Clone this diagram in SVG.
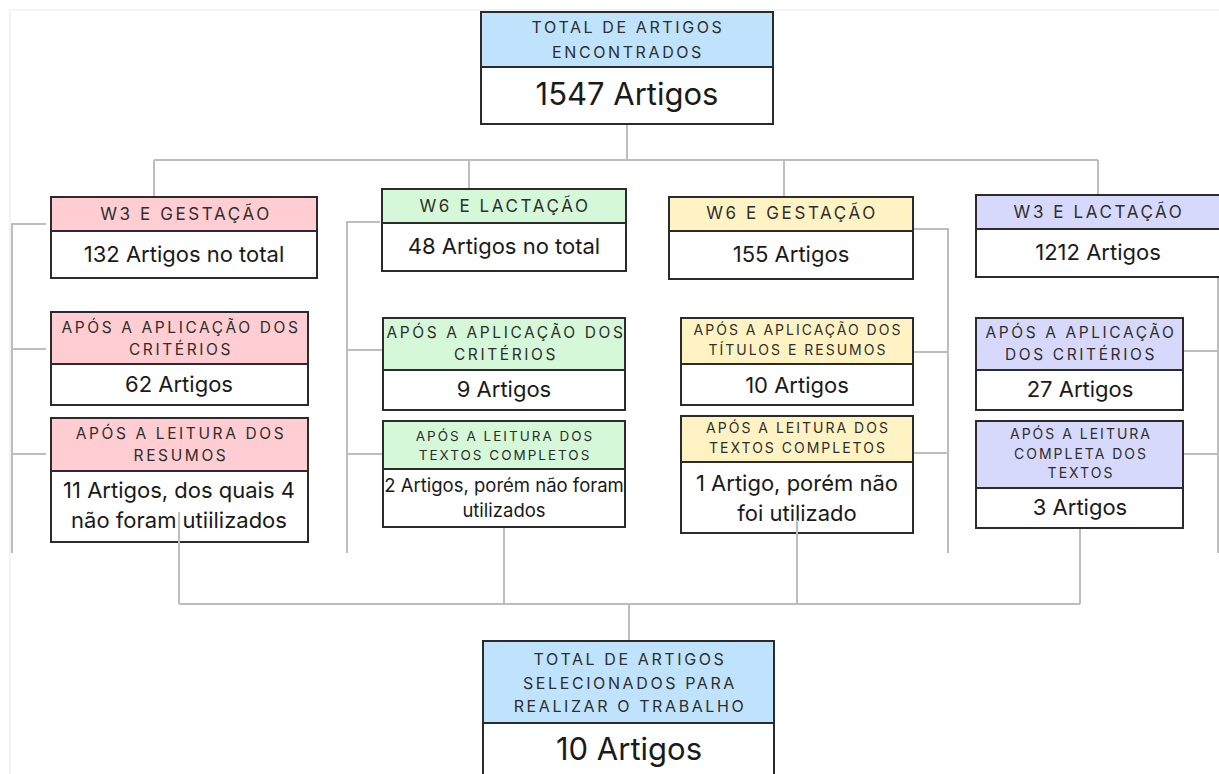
<svg xmlns="http://www.w3.org/2000/svg" width="1219" height="774" viewBox="0 0 1219 774">
<style>
.frame{fill:none;stroke:#efefef;stroke-width:1.5}
.box{stroke:#2b2b2b;stroke-width:2}
.hdr{font-family:Inter,"Liberation Sans",sans-serif;fill:#2e2e2e;text-anchor:middle}
.bdy{font-family:Inter,"Liberation Sans",sans-serif;fill:#1a1a1a;text-anchor:middle}
.con{fill:none;stroke:#bdbdbd;stroke-width:2}
.w{fill:#fff}
.blue{fill:#c0e3fd}
.pink{fill:#ffcdd2}
.green{fill:#d4f8d8}
.yellow{fill:#fff3c4}
.purple{fill:#d6d9fb}
</style>
<rect width="1219" height="774" fill="#fff"/>
<path class="frame" d="M10,790 V10 H1230"/>
<g id="total-encontrados">
<rect class="box blue" x="481" y="12" width="292" height="55"/>
<rect class="box w" x="481" y="67" width="292" height="57"/>
<text class="hdr" style="font-size:16px;letter-spacing:2.6px" x="628" y="33">TOTAL DE ARTIGOS</text>
<text class="hdr" style="font-size:16px;letter-spacing:2.6px" x="628" y="58">ENCONTRADOS</text>
<text class="bdy" style="font-size:31px" x="627" y="105">1547 Artigos</text>
</g>
<g id="w3-gestacao">
<rect class="box pink" x="51" y="197" width="266" height="34"/>
<rect class="box w" x="51" y="231" width="266" height="47"/>
<text class="hdr" style="font-size:17px;letter-spacing:2.6px" x="186" y="220">W3 E GESTAÇÃO</text>
<text class="bdy" style="font-size:22px" x="184" y="262">132 Artigos no total</text>
</g>
<g id="w6-lactacao">
<rect class="box green" x="382" y="189" width="244" height="34"/>
<rect class="box w" x="382" y="223" width="244" height="48"/>
<text class="hdr" style="font-size:17px;letter-spacing:2.6px" x="505" y="212">W6 E LACTAÇÃO</text>
<text class="bdy" style="font-size:22px" x="504" y="254">48 Artigos no total</text>
</g>
<g id="w6-gestacao">
<rect class="box yellow" x="669" y="197" width="244" height="34"/>
<rect class="box w" x="669" y="231" width="244" height="48"/>
<text class="hdr" style="font-size:17px;letter-spacing:2.6px" x="792" y="219">W6 E GESTAÇÃO</text>
<text class="bdy" style="font-size:22px" x="791" y="262">155 Artigos</text>
</g>
<g id="w3-lactacao">
<rect class="box purple" x="976" y="195" width="250" height="34"/>
<rect class="box w" x="976" y="229" width="250" height="48"/>
<text class="hdr" style="font-size:17px;letter-spacing:2.6px" x="1099" y="218">W3 E LACTAÇÃO</text>
<text class="bdy" style="font-size:22px" x="1098" y="260">1212 Artigos</text>
</g>
<g id="w3g-criterios">
<rect class="box pink" x="51" y="312" width="257" height="52"/>
<rect class="box w" x="51" y="364" width="257" height="41"/>
<text class="hdr" style="font-size:15.5px;letter-spacing:2.6px" x="181" y="333">APÓS A APLICAÇÃO DOS</text>
<text class="hdr" style="font-size:15.5px;letter-spacing:2.6px" x="181" y="355">CRITÉRIOS</text>
<text class="bdy" style="font-size:22px" x="179" y="392">62 Artigos</text>
</g>
<g id="w3g-resumos">
<rect class="box pink" x="51" y="418" width="257" height="53"/>
<rect class="box w" x="51" y="471" width="257" height="71"/>
<text class="hdr" style="font-size:15.5px;letter-spacing:2.6px" x="181" y="439">APÓS A LEITURA DOS</text>
<text class="hdr" style="font-size:15.5px;letter-spacing:2.6px" x="181" y="461">RESUMOS</text>
<text class="bdy" style="font-size:22px" x="179" y="498">11 Artigos, dos quais 4</text>
<text class="bdy" style="font-size:22px" x="179" y="528">não foram utiilizados</text>
</g>
<g id="w6l-criterios">
<rect class="box green" x="383" y="318" width="242" height="52"/>
<rect class="box w" x="383" y="370" width="242" height="40"/>
<text class="hdr" style="font-size:15.5px;letter-spacing:2.6px" x="506" y="338">APÓS A APLICAÇÃO DOS</text>
<text class="hdr" style="font-size:15.5px;letter-spacing:2.6px" x="506" y="360">CRITÉRIOS</text>
<text class="bdy" style="font-size:22px" x="504" y="397">9 Artigos</text>
</g>
<g id="w6l-textos">
<rect class="box green" x="383" y="421" width="242" height="48"/>
<rect class="box w" x="383" y="469" width="242" height="58"/>
<text class="hdr" style="font-size:13.5px;letter-spacing:2px" x="505" y="441">APÓS A LEITURA DOS</text>
<text class="hdr" style="font-size:13.5px;letter-spacing:2px" x="505" y="460">TEXTOS COMPLETOS</text>
<text class="bdy" style="font-size:18.5px" x="504" y="492">2 Artigos, porém não foram</text>
<text class="bdy" style="font-size:18.5px" x="504" y="517">utilizados</text>
</g>
<g id="w6g-titulos">
<rect class="box yellow" x="681" y="318" width="232" height="46"/>
<rect class="box w" x="681" y="364" width="232" height="41"/>
<text class="hdr" style="font-size:14px;letter-spacing:2px" x="798" y="335">APÓS A APLICAÇÃO DOS</text>
<text class="hdr" style="font-size:14px;letter-spacing:2px" x="798" y="355">TÍTULOS E RESUMOS</text>
<text class="bdy" style="font-size:22px" x="797" y="393">10 Artigos</text>
</g>
<g id="w6g-textos">
<rect class="box yellow" x="681" y="416" width="232" height="46"/>
<rect class="box w" x="681" y="462" width="232" height="71"/>
<text class="hdr" style="font-size:14px;letter-spacing:2px" x="798" y="433">APÓS A LEITURA DOS</text>
<text class="hdr" style="font-size:14px;letter-spacing:2px" x="798" y="453">TEXTOS COMPLETOS</text>
<text class="bdy" style="font-size:22px" x="797" y="491">1 Artigo, porém não</text>
<text class="bdy" style="font-size:22px" x="797" y="521">foi utilizado</text>
</g>
<g id="w3l-criterios">
<rect class="box purple" x="976" y="318" width="207" height="52"/>
<rect class="box w" x="976" y="370" width="207" height="40"/>
<text class="hdr" style="font-size:15.5px;letter-spacing:2.6px" x="1081" y="338">APÓS A APLICAÇÃO</text>
<text class="hdr" style="font-size:15.5px;letter-spacing:2.6px" x="1081" y="360">DOS CRITÉRIOS</text>
<text class="bdy" style="font-size:22px" x="1080" y="397">27 Artigos</text>
</g>
<g id="w3l-textos">
<rect class="box purple" x="976" y="421" width="207" height="67"/>
<rect class="box w" x="976" y="488" width="207" height="40"/>
<text class="hdr" style="font-size:14px;letter-spacing:2px" x="1081" y="439">APÓS A LEITURA</text>
<text class="hdr" style="font-size:14px;letter-spacing:2px" x="1081" y="459">COMPLETA DOS</text>
<text class="hdr" style="font-size:14px;letter-spacing:2px" x="1081" y="478">TEXTOS</text>
<text class="bdy" style="font-size:22px" x="1080" y="515">3 Artigos</text>
</g>
<g id="total-selecionados">
<rect class="box blue" x="483" y="641" width="291" height="82"/>
<rect class="box w" x="483" y="723" width="291" height="70"/>
<text class="hdr" style="font-size:16px;letter-spacing:2.6px" x="630" y="665">TOTAL DE ARTIGOS</text>
<text class="hdr" style="font-size:16px;letter-spacing:2.6px" x="630" y="689">SELECIONADOS PARA</text>
<text class="hdr" style="font-size:16px;letter-spacing:2.6px" x="630" y="712">REALIZAR O TRABALHO</text>
<text class="bdy" style="font-size:31px" x="629" y="760">10 Artigos</text>
</g>
<g id="connectors">
<path class="con" d="M627,125 V160 M154,160 H1098 M154,160 V196 M469,160 V188 M784,160 V196 M1098,160 V194"/>
<path class="con" d="M46,224 H12 V553 M12,349 H46 M12,454 H46"/>
<path class="con" d="M380,222 H347 V553 M347,350 H382 M347,454 H382"/>
<path class="con" d="M914,229 H948 V553 M914,352 H948 M914,453 H948"/>
<path class="con" d="M1218,278 V553 M1184,351 H1219 M1184,454 H1219"/>
<path class="con" d="M179,512 V604 M504,528 V604 M797,520 V604 M1080,529 V604 M179,604 H1080 M629,604 V640"/>
</g>
</svg>
